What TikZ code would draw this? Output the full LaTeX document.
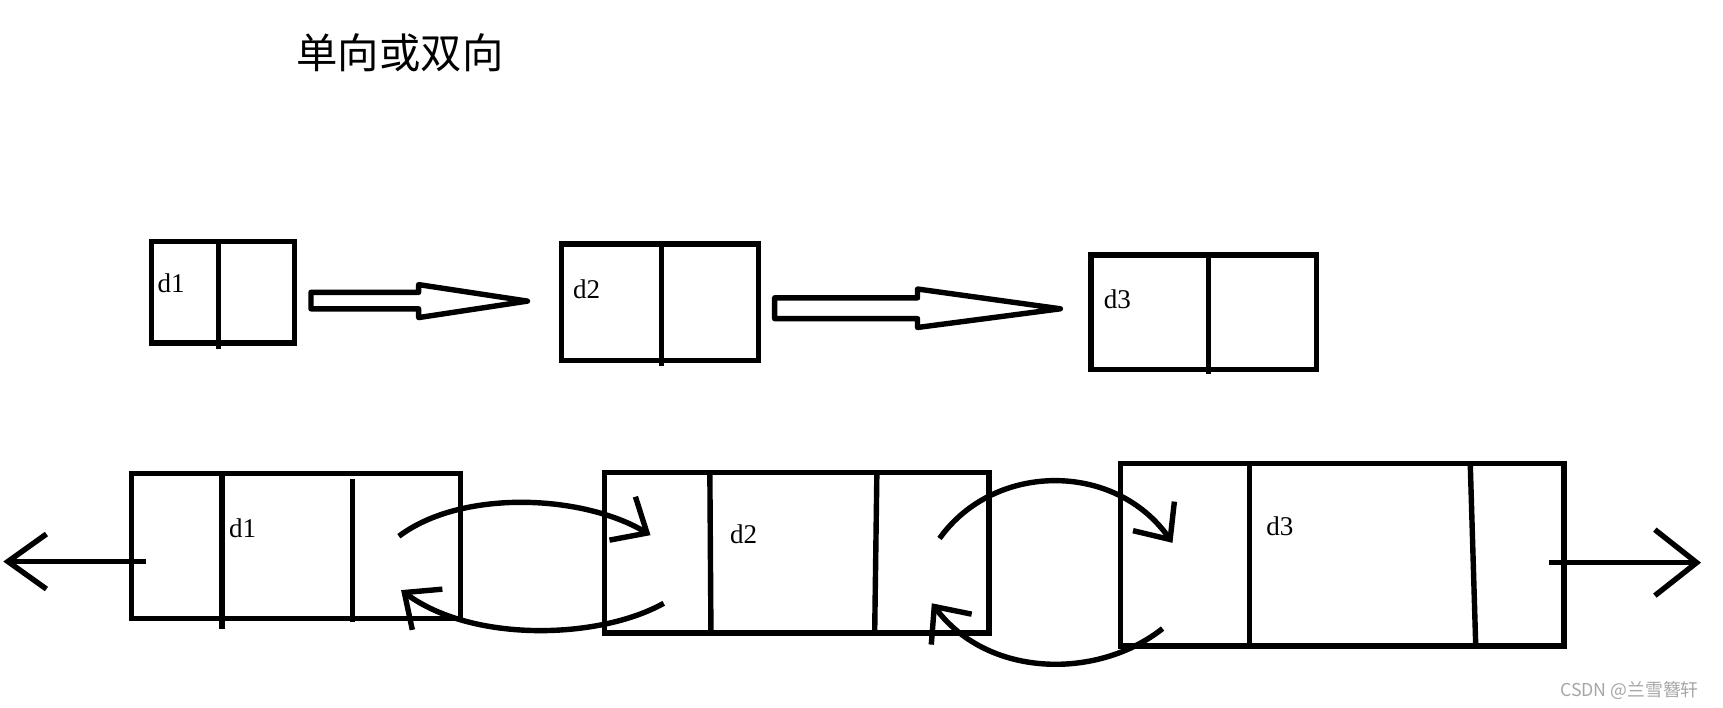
\documentclass[tikz,border=0pt]{standalone}
\usepackage{fontspec}
\setmainfont{Liberation Serif}
\newfontfamily\cjkfont{Noto Sans CJK SC}
\usepackage{tikz}
\usetikzlibrary{arrows.meta}

\begin{document}
\begin{tikzpicture}[x=0.01cm, y=-0.01cm, line width=1.4pt,
  cell/.style={draw, rectangle, inner sep=0pt},
  lab/.style={anchor=west, inner sep=0pt, font=\fontsize{7}{8}\selectfont},
  link/.style={-{Straight Barb[length=2.6mm, width=4.6mm]}}]
\useasboundingbox (0,0) rectangle (1568,644);

% Title
\node[font=\cjkfont\fontsize{10.7}{12}\selectfont] (title) at (364,48) {单向或双向};

% Singly linked list (top row)
\node[cell, minimum width=1.30cm, minimum height=0.92cm] (s1) at (203,266) {}; % Left
\node[cell, minimum width=1.79cm, minimum height=1.06cm] (s2) at (600.5,275) {}; % Middle
\node[cell, minimum width=2.05cm, minimum height=1.04cm] (s3) at (1095.5,284) {}; % Right
\draw (199,220) -- (199,318);
\draw (602,222) -- (602,333);
\draw (1100,232) -- (1100,340);
\node[lab] (s1lab) at (141,258) {d1};
\node[lab] (s2lab) at (519,263) {d2};
\node[lab] (s3lab) at (1002,272) {d3};

% Hollow block arrows between the boxes
\draw[line join=round] (283,266) -- (381,266) -- (381,259) -- (480,274) -- (381,289) -- (381,281) -- (283,281) -- cycle;
\draw[line join=round] (705,271) -- (835,271) -- (835,263) -- (965,281) -- (835,298) -- (835,290) -- (705,290) -- cycle;

% Doubly linked list (bottom row)
\node[cell, minimum width=2.99cm, minimum height=1.32cm] (b1) at (269.5,497) {}; % Left
\node[cell, minimum width=3.50cm, minimum height=1.46cm] (b2) at (725,503) {}; % Middle
\node[cell, minimum width=4.03cm, minimum height=1.66cm] (b3) at (1221.5,505) {}; % Right
\draw (202,431) -- (202,572);
\draw (321,436) -- (321,566);
\draw (646,430) -- (647,576);
\draw (798,430) -- (796,576);
\draw (1137,422) -- (1137,588);
\draw (1338,422) -- (1343,588);
\node[lab] (b1lab) at (206,481) {d1};
\node[lab] (b2lab) at (662,486) {d2};
\node[lab] (b3lab) at (1150,479) {d3};

% Link end points
\coordinate (headin) at (133,511);
\coordinate (headout) at (3,511);
\coordinate (n1out) at (363,488);
\coordinate (n2in) at (592,487);
\coordinate (n2back) at (604,549);
\coordinate (n1back) at (365,537);
\coordinate (n2out) at (855,490);
\coordinate (n3in) at (1067,494);
\coordinate (n3back) at (1058,572);
\coordinate (n2prev) at (848,549);
\coordinate (tailin) at (1410,512);
\coordinate (tailout) at (1548,512);

% Links
\draw[-{Straight Barb[length=3.5mm, width=5mm]}] (headin) -- (headout);
\draw[link] (n1out) .. controls (420,445) and (530,450) .. (n2in);
\draw[link] (n2back) .. controls (545,582) and (430,585) .. (n1back);
\draw[link] (n2out) .. controls (905,420) and (1015,420) .. (n3in);
\draw[link] (n3back) .. controls (1000,618) and (900,618) .. (n2prev);
\draw[-{Straight Barb[length=3.8mm, width=6mm]}] (tailin) -- (tailout);

% Watermark
\node[anchor=east, text=gray!70, font=\cjkfont\fontsize{4.6}{6}\selectfont] (mark) at (1560,628) {CSDN @兰雪簪轩};
\end{tikzpicture}
\end{document}
